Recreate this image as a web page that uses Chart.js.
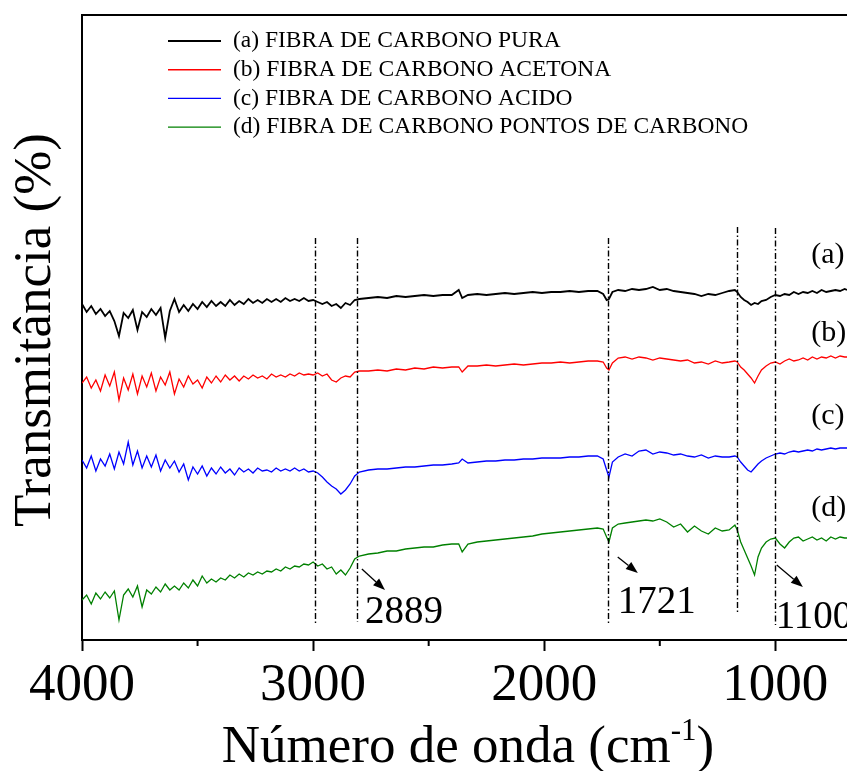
<!DOCTYPE html>
<html>
<head>
<meta charset="utf-8">
<script src="https://cdn.jsdelivr.net/npm/chart.js@4.4.1/dist/chart.umd.min.js"></script>
<style>
  html, body { margin: 0; padding: 0; background: #fff; }
  #ftir { display: block; }
</style>
</head>
<body>
<canvas id="ftir" width="847" height="771"></canvas>
<script>
// Wavenumbers (cm-1)
const waveNumbers = [
  4000, 3980, 3960, 3940, 3920, 3900, 3880, 3860, 3840, 3820,
  3800, 3780, 3760, 3740, 3720, 3700, 3680, 3660, 3640, 3620,
  3600, 3580, 3560, 3540, 3520, 3500, 3480, 3460, 3440, 3420,
  3400, 3380, 3360, 3340, 3320, 3300, 3280, 3260, 3240, 3220,
  3200, 3180, 3160, 3140, 3120, 3100, 3080, 3060, 3040, 3020,
  3000, 2980, 2960, 2940, 2920, 2900, 2880, 2860, 2840, 2820,
  2800,
  2760, 2720, 2680, 2640, 2600, 2560, 2520, 2480, 2440, 2400,
  2370, 2355, 2330,
  2290, 2250, 2210, 2170, 2130, 2090, 2050, 2010, 1970, 1930, 1890, 1850, 1810, 1770,
  1745, 1730, 1720, 1705, 1680,
  1650, 1620, 1590, 1560, 1530, 1500, 1470, 1440, 1410, 1380, 1350, 1320, 1290, 1260, 1230, 1200,
  1175, 1165, 1150, 1135, 1120, 1105, 1090, 1075, 1060,
  1040, 1020, 1000, 980, 960, 940, 920, 900, 880, 860, 840, 820, 800, 780, 760, 740, 720, 700,
  690
];

// Transmittance (offset, arbitrary units)
const pura = [
  33.6, 32.8, 33.4, 32.6, 33.1, 32.4, 32.9, 31.9, 30.4, 32.7,
  32.2, 33.0, 31.0, 32.8, 32.3, 33.1, 32.5, 33.2, 30.2, 32.9,
  34.1, 32.8, 33.5, 32.9, 33.6, 33.1, 33.8, 33.3, 33.9, 33.4,
  33.8, 33.4, 34.0, 33.5, 33.9, 33.6, 34.1, 33.7, 34.0, 33.7,
  34.1, 33.8, 34.1, 33.8, 34.2, 33.9, 34.1, 33.9, 34.2, 33.9,
  34.0, 33.8, 33.6, 33.8, 33.4, 33.6, 33.2, 33.7, 33.5, 34.0,
  34.1,
  34.2, 34.3, 34.2, 34.4, 34.3, 34.4, 34.5, 34.4, 34.5, 34.5,
  35.0, 34.2, 34.5,
  34.6, 34.5, 34.6, 34.7, 34.6, 34.7, 34.8, 34.7, 34.8, 34.8, 34.9, 34.8, 34.9, 34.9,
  34.6, 34.0, 34.1, 34.8, 35.0,
  34.9, 35.1, 35.0, 35.1, 35.3, 35.0, 35.1, 34.9, 34.8, 34.7, 34.6, 34.4, 34.6, 34.5, 34.7, 34.9,
  35.0, 34.8, 34.3, 34.0, 33.8, 33.5, 33.7, 33.6, 33.9,
  34.0, 34.3, 34.5, 34.4, 34.6, 34.5, 34.8, 34.6, 34.8, 34.7, 34.9, 34.7, 35.0, 34.8, 34.9, 35.0, 34.9, 35.1,
  35.0
];
const acetona = [
  25.7, 26.3, 25.2, 26.0, 24.9, 26.5, 25.4, 26.8, 24.0, 26.2,
  25.0, 26.6, 24.6, 26.4, 25.3, 26.7, 24.9, 26.3, 25.5, 26.8,
  24.6, 26.1, 25.3, 26.4, 25.6, 26.0, 25.2, 26.3, 25.7, 26.4,
  25.8, 26.5, 26.0, 26.4, 25.9, 26.4, 26.1, 26.5, 26.2, 26.4,
  26.1, 26.6, 26.3, 26.5, 26.3, 26.6, 26.4, 26.7, 26.5, 26.6,
  26.5, 26.7, 26.4, 26.6, 26.0, 25.8, 26.2, 26.4, 26.3, 26.8,
  26.9,
  26.9, 27.0, 26.9, 27.1, 27.0, 27.2, 27.1, 27.3, 27.2, 27.3,
  27.3, 26.8, 27.4,
  27.4, 27.5, 27.4, 27.5, 27.6, 27.5, 27.6, 27.7, 27.7, 27.8, 27.7, 27.8, 27.9, 27.9,
  27.8, 27.2, 27.0, 27.7, 28.2,
  28.3, 28.1, 28.3, 28.2, 28.0, 28.2, 28.1, 28.0, 27.9, 28.0, 27.7, 27.8, 27.6, 27.9, 27.7, 27.8,
  27.9, 27.8, 27.3, 27.0, 26.6, 26.2, 25.7, 26.4, 27.0,
  27.4, 27.7, 27.8, 27.6, 27.9, 28.1, 27.9, 28.0, 28.2, 28.0, 28.3, 28.1, 28.3, 28.2, 28.4, 28.2, 28.4, 28.3,
  28.3
];
const acido = [
  18.0, 17.2, 18.4, 16.9, 18.1, 17.4, 18.6, 17.1, 18.8, 17.6,
  19.8, 17.5, 18.9, 17.2, 18.4, 17.3, 18.5, 16.9, 18.0, 17.2,
  17.9, 16.8, 17.6, 16.0, 17.3, 16.6, 17.4, 16.4, 17.2, 16.6,
  17.3, 16.7, 17.1, 16.5, 17.2, 16.8, 17.1, 16.7, 17.2, 16.9,
  17.0, 16.8, 17.2, 16.9, 17.1, 16.9, 17.2, 16.9, 17.1, 16.8,
  16.9, 16.7, 16.3, 15.8, 15.4, 15.1, 14.6, 15.0, 15.6, 16.4,
  16.8,
  17.0, 17.1, 17.1, 17.2, 17.3, 17.3, 17.4, 17.5, 17.5, 17.6,
  17.7, 18.1, 17.7,
  17.8, 17.9, 17.9, 18.0, 18.0, 18.1, 18.1, 18.2, 18.2, 18.2, 18.3, 18.3, 18.4, 18.4,
  18.1, 17.0, 16.3, 17.8, 18.3,
  18.6, 18.4, 18.9, 19.0, 18.6, 18.8, 18.7, 18.5, 18.6, 18.4, 18.3, 18.5, 18.2, 18.4, 18.3, 18.3,
  18.4, 18.3, 17.8, 17.4, 17.0, 16.8, 17.2, 17.6, 17.9,
  18.2, 18.4, 18.6, 18.7, 18.6, 18.8, 18.9, 18.8, 18.9, 19.0, 18.9, 19.1, 19.0, 19.1, 19.2, 19.1, 19.2, 19.2,
  19.2
];
const pontos = [
  4.0, 4.5, 3.6, 4.7, 4.1, 4.8, 4.2, 4.9, 2.0, 4.5,
  5.1, 4.3, 5.4, 3.3, 5.0, 4.6, 5.3, 4.8, 5.6, 5.0,
  5.4, 5.0, 5.7, 5.2, 6.0, 5.4, 6.4, 5.7, 6.1, 5.8,
  6.2, 6.0, 6.5, 6.2, 6.6, 6.3, 6.7, 6.5, 6.8, 6.6,
  6.9, 6.8, 7.1, 6.9, 7.3, 7.1, 7.4, 7.3, 7.6, 7.5,
  7.8, 7.4, 7.6, 7.1, 7.3, 6.6, 7.0, 6.5, 7.2, 8.1,
  8.4,
  8.6, 8.7, 8.9, 8.9, 9.1, 9.2, 9.3, 9.3, 9.5, 9.6,
  9.6, 8.8, 9.6,
  9.8, 9.9, 10.0, 10.1, 10.2, 10.3, 10.4, 10.6, 10.7, 10.8, 10.9, 11.0, 11.1, 11.2,
  11.1, 10.3, 9.8, 11.2, 11.6,
  11.7, 11.8, 11.9, 12.0, 11.9, 12.1, 11.8, 11.3, 11.6, 10.8, 11.4, 10.9, 10.6, 11.2, 10.9, 11.0,
  11.5, 11.0, 9.8, 9.0, 8.2, 7.4, 6.5, 8.3, 9.2,
  9.8, 10.1, 10.2, 9.6, 9.2, 9.8, 10.2, 10.3, 9.9, 10.1, 10.3, 10.0, 10.2, 9.9, 10.3, 10.1, 10.3, 10.2,
  10.2
];

const seriesLabels = [
  '(a) FIBRA DE CARBONO PURA',
  '(b) FIBRA DE CARBONO ACETONA',
  '(c) FIBRA DE CARBONO ACIDO',
  '(d) FIBRA DE CARBONO PONTOS DE CARBONO'
];
const seriesTags = ['(a)', '(b)', '(c)', '(d)'];
const seriesColors = ['#000000', '#ff0000', '#0000ff', '#008000'];

// x axis ticks
const majorTicks = [4000, 3000, 2000, 1000];
const minorTicks = [3500, 2500, 1500];

// marked bands (cm-1) and the numbers written next to them
const bandLines = [2992, 2810, 1725, 1167, 1003];
const bandNumbers = ['2889', '1721', '1100'];

function toPoints(ys) {
  return ys.map((v, i) => ({ x: waveNumbers[i], y: v }));
}

const FONT = "'Liberation Serif', 'Times New Roman', serif";

const overlay = {
  id: 'overlay',
  afterDatasetsDraw(chart) {
    const { ctx, chartArea: a, scales: { x, y } } = chart;
    ctx.save();
    ctx.strokeStyle = '#000';
    ctx.fillStyle = '#000';

    // top frame
    ctx.lineWidth = 2;
    ctx.beginPath();
    ctx.moveTo(a.left, a.top);
    ctx.lineTo(chart.width, a.top);
    ctx.stroke();

    // minor ticks
    minorTicks.forEach(v => {
      const px = x.getPixelForValue(v);
      ctx.beginPath();
      ctx.moveTo(px, a.bottom);
      ctx.lineTo(px, a.bottom + 6);
      ctx.stroke();
    });

    // dash-dot band lines
    const lineTops = [40.2, 40.2, 40.2, 41.3, 41.2];
    const lineBottoms = [1.7, 1.8, 1.7, 2.8, 1.5];
    ctx.lineWidth = 1.4;
    ctx.setLineDash([6, 2.5, 1.5, 2.5]);
    bandLines.forEach((wn, i) => {
      const px = Math.round(x.getPixelForValue(wn)) + 0.5;
      ctx.beginPath();
      ctx.moveTo(px, y.getPixelForValue(lineTops[i]));
      ctx.lineTo(px, y.getPixelForValue(lineBottoms[i]));
      ctx.stroke();
    });
    ctx.setLineDash([]);

    // arrows + band numbers
    const arrows = [
      [2789, 7.1, 2689, 5.0],
      [1682, 8.3, 1595, 6.7],
      [994, 7.5, 881, 5.3]
    ];
    const numPos = [[2776, 1.7], [1682, 2.7], [998, 1.2]];
    ctx.lineWidth = 1.3;
    arrows.forEach((ar, i) => {
      const x1 = x.getPixelForValue(ar[0]), y1 = y.getPixelForValue(ar[1]);
      const x2 = x.getPixelForValue(ar[2]), y2 = y.getPixelForValue(ar[3]);
      const ang = Math.atan2(y2 - y1, x2 - x1);
      const hl = 12, hw = 4.5;
      const bx = x2 - hl * Math.cos(ang), by = y2 - hl * Math.sin(ang);
      ctx.beginPath();
      ctx.moveTo(x1, y1);
      ctx.lineTo(bx, by);
      ctx.stroke();
      ctx.beginPath();
      ctx.moveTo(x2, y2);
      ctx.lineTo(bx + hw * Math.sin(ang), by - hw * Math.cos(ang));
      ctx.lineTo(bx - hw * Math.sin(ang), by + hw * Math.cos(ang));
      ctx.closePath();
      ctx.fill();

      ctx.font = `39px ${FONT}`;
      ctx.textAlign = 'left';
      ctx.textBaseline = 'alphabetic';
      ctx.fillText(bandNumbers[i], x.getPixelForValue(numPos[i][0]), y.getPixelForValue(numPos[i][1]));
    });

    // series tags on the right
    const tagY = [38.5, 30.7, 22.4, 13.2];
    ctx.font = `30px ${FONT}`;
    ctx.textBaseline = 'middle';
    seriesTags.forEach((t, i) => {
      ctx.fillText(t, x.getPixelForValue(845), y.getPixelForValue(tagY[i]));
    });

    // legend
    ctx.font = `23.5px ${FONT}`;
    seriesLabels.forEach((lab, i) => {
      const ly = 41 + i * 28.7;
      ctx.strokeStyle = seriesColors[i];
      ctx.lineWidth = i === 0 ? 1.8 : 1.4;
      ctx.beginPath();
      ctx.moveTo(168, ly);
      ctx.lineTo(221, ly);
      ctx.stroke();
      ctx.fillStyle = '#000';
      ctx.fillText(lab, 233, ly);
    });

    // y title
    ctx.save();
    ctx.translate(50, 330);
    ctx.rotate(-Math.PI / 2);
    ctx.font = `53px ${FONT}`;
    ctx.textAlign = 'center';
    ctx.textBaseline = 'alphabetic';
    ctx.fillText('Transmitância (%)', 0, 0);
    ctx.restore();

    // x title with superscript
    const main = 'Número de onda (cm', sup = '-1', tail = ')';
    ctx.textAlign = 'left';
    ctx.textBaseline = 'alphabetic';
    ctx.font = `53px ${FONT}`;
    const wMain = ctx.measureText(main).width;
    const wTail = ctx.measureText(tail).width;
    ctx.font = `31px ${FONT}`;
    const wSup = ctx.measureText(sup).width;
    const total = wMain + wSup + wTail;
    const tx = 468 - total / 2;
    const base = 762;
    ctx.font = `53px ${FONT}`;
    ctx.fillText(main, tx, base);
    ctx.font = `31px ${FONT}`;
    ctx.fillText(sup, tx + wMain, base - 22);
    ctx.font = `53px ${FONT}`;
    ctx.fillText(tail, tx + wMain + wSup, base);

    ctx.restore();
  }
};

const ctx = document.getElementById('ftir').getContext('2d');
new Chart(ctx, {
  type: 'line',
  data: {
    datasets: [pura, acetona, acido, pontos].map((ys, i) => ({
      label: seriesLabels[i],
      data: toPoints(ys),
      borderColor: seriesColors[i],
      borderWidth: i === 0 ? 1.8 : 1.3,
      pointRadius: 0,
      tension: 0,
      fill: false
    }))
  },
  options: {
    responsive: false,
    animation: false,
    devicePixelRatio: 1,
    layout: { padding: { top: 15, left: 0, right: 0, bottom: 0 } },
    plugins: {
      legend: { display: false },
      tooltip: { enabled: false },
      title: { display: false }
    },
    scales: {
      x: {
        type: 'linear',
        reverse: true,
        min: 690,
        max: 4000,
        afterBuildTicks: s => { s.ticks = majorTicks.map(v => ({ value: v })); },
        border: { display: true, color: '#000', width: 2 },
        grid: {
          display: true,
          drawOnChartArea: false,
          drawTicks: true,
          tickLength: 11,
          tickWidth: 2,
          tickColor: '#000'
        },
        ticks: {
          autoSkip: false,
          maxRotation: 0,
          padding: 3,
          color: '#000',
          font: { family: FONT, size: 53 },
          callback: v => String(v)
        },
        afterFit: s => { s.height = 131; }
      },
      y: {
        min: 0,
        max: 62.5,
        border: { display: true, color: '#000', width: 2 },
        grid: { display: false },
        ticks: { display: false },
        afterFit: s => { s.width = 82; }
      }
    }
  },
  plugins: [overlay]
});
</script>
</body>
</html>
